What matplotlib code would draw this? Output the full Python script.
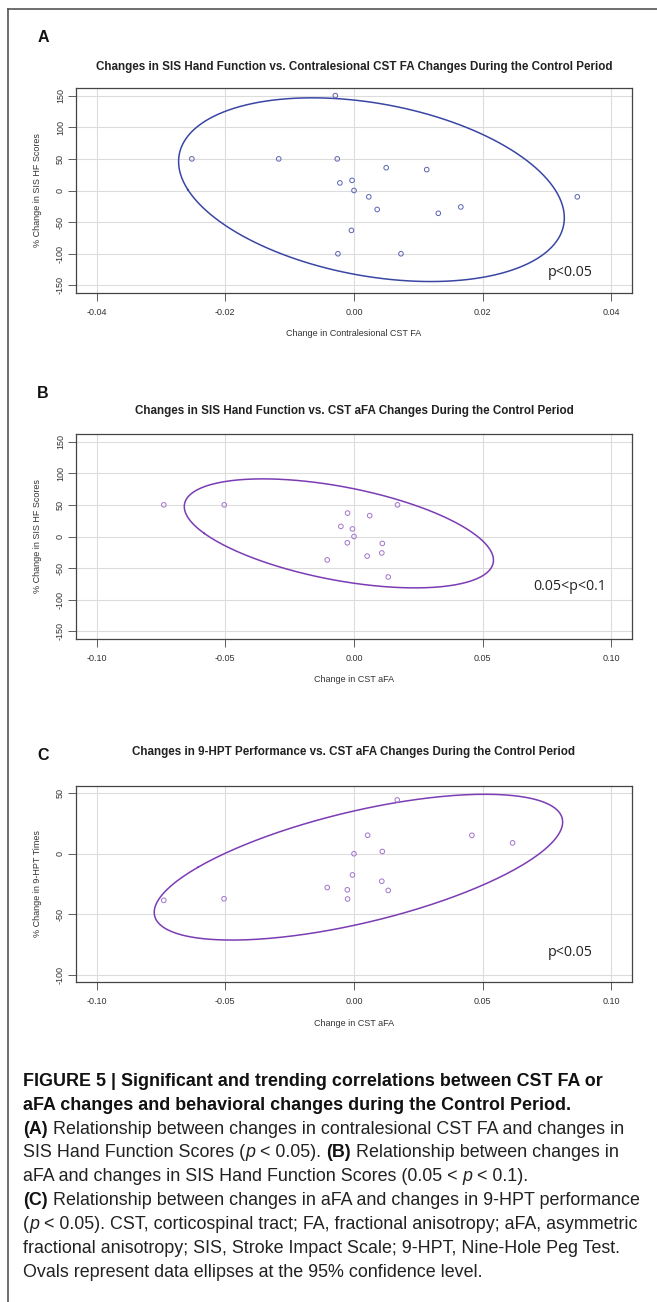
import numpy as np
import matplotlib
matplotlib.use("Agg")
import matplotlib.pyplot as plt
from matplotlib.lines import Line2D

W, H = 657, 1302

# panel A: contralesional CST FA vs SIS hand function
A_x = [-0.0029, -0.0252, -0.0117, -0.0026, 0.0050, 0.0113, -0.0022, -0.0003, 0.0000,
       0.0023, 0.0036, 0.0166, 0.0131, 0.0347, -0.0004, -0.0025, 0.0073]
A_y = [150, 50, 50, 50, 36, 33, 12, 16, 0, -10, -30, -26, -36, -10, -63, -100, -100]

# panel B: CST aFA vs SIS hand function
B_x = [-0.0739, -0.0504, -0.0025, 0.0061, 0.0169, -0.0051, -0.0006, 0.0000, -0.0026,
       0.0110, 0.0108, 0.0051, -0.0104, 0.0133]
B_y = [50, 50, 37, 33, 50, 16, 12, 0, -10, -11, -26, -31, -37, -64]

# panel C: CST aFA vs 9-HPT times
C_x = [-0.0739, -0.0505, -0.0104, -0.0026, -0.0025, 0.0133, 0.0108, -0.0006, 0.0000,
       0.0110, 0.0053, 0.0168, 0.0458, 0.0616]
C_y = [-38.5, -37.2, -27.9, -29.8, -37.4, -30.3, -22.7, -17.5, 0, 1.9, 15.3, 44.5, 15.3, 9]

titles = ["Changes in SIS Hand Function vs. Contralesional CST FA Changes During the Control Period",
          "Changes in SIS Hand Function vs. CST aFA Changes During the Control Period",
          "Changes in 9-HPT Performance vs. CST aFA Changes During the Control Period"]
xlabels = ["Change in Contralesional CST FA", "Change in CST aFA", "Change in CST aFA"]
ylabels = ["% Change in SIS HF Scores", "% Change in SIS HF Scores", "% Change in 9-HPT Times"]
pvals = ["p<0.05", "0.05<p<0.1", "p<0.05"]
letters = ["A", "B", "C"]
xticks_A = [-0.04, -0.02, 0.00, 0.02, 0.04]
xticks_BC = [-0.10, -0.05, 0.00, 0.05, 0.10]
yticks_AB = [-150, -100, -50, 0, 50, 100, 150]
yticks_C = [-100, -50, 0, 50]

NARROW = ["Liberation Sans Narrow", "Liberation Sans", "DejaVu Sans"]
SANS = ["Liberation Sans", "DejaVu Sans"]


def data_ellipse(x, y, level=0.95):
    # normal-theory data ellipse from sample mean and covariance
    xy = np.column_stack([x, y])
    loc = xy.mean(0)
    cv = np.cov(xy.T, ddof=0)
    r = np.sqrt(-2 * np.log(1 - level))
    vals, vecs = np.linalg.eigh(cv)
    t = np.linspace(0, 2 * np.pi, 300)
    circ = np.vstack([np.cos(t), np.sin(t)])
    pts = (vecs @ (np.sqrt(vals)[:, None] * circ)) * r + loc[:, None]
    return pts[0], pts[1]


def rect(x0, y0, x1, y1):
    return [x0 / W, 1 - y1 / H, (x1 - x0) / W, (y1 - y0) / H]


fig = plt.figure(figsize=(W / 100, H / 100), dpi=100)

L, R = 76, 632
CX = (L + R) / 2
panels = [
    (A_x, A_y, rect(L, 88, R, 293), (-0.0432, 0.0432), (-162, 162), xticks_A, yticks_AB,
     "#3A46A4", "#5B63B3", 67, 38, 312, 334, 273, 8.4),
    (B_x, B_y, rect(L, 434, R, 639), (-0.108, 0.108), (-162, 162), xticks_BC, yticks_AB,
     "#7B3CB4", "#A274CC", 411, 394, 658, 680, 587, 8.4),
    (C_x, C_y, rect(L, 786, R, 982), (-0.108, 0.108), (-106, 56), xticks_BC, yticks_C,
     "#7B3CB4", "#A274CC", 752, 756, 1001, 1024, 953, 8.4),
]

for i, (xs, ys, r, xl, yl, xt, yt, ecol, pcol, ty, ly, xty, xly, py, tsz) in enumerate(panels):
    ax = fig.add_axes(r)
    ax.set_xlim(*xl)
    ax.set_ylim(*yl)
    ax.set_xticks(xt)
    ax.set_yticks(yt)
    ax.set_xticklabels(["%.2f" % v for v in xt], fontsize=6.5, family=SANS, color="#333333")
    ax.set_yticklabels([str(v) for v in yt], fontsize=6.5, family=SANS, color="#333333",
                       rotation=90, va="center")
    ax.grid(True, color="#DCDCDC", lw=0.8)
    ax.set_axisbelow(True)
    ax.tick_params(direction="out", length=5.5, width=0.6, color="#444444", pad=5)
    ax.tick_params(axis="y", pad=2.5)
    for s in ax.spines.values():
        s.set_color("#444444")
        s.set_linewidth(0.9)

    ex, ey = data_ellipse(xs, ys)
    ax.plot(ex, ey, color=ecol, lw=1.1)
    ax.scatter(xs, ys, s=11, facecolors="none", edgecolors=pcol, linewidths=0.7, zorder=3)

    # titles, labels, annotations in pixel positions
    fig.text(CX / W, 1 - ty / H, titles[i], ha="center", va="center", fontsize=tsz,
             fontweight="bold", family=NARROW, color="#222222")
    fig.text(43 / W, 1 - ly / H, letters[i], ha="center", va="center", fontsize=11.5,
             fontweight="bold", family=SANS, color="#111111")
    fig.text(CX / W, 1 - xly / H, xlabels[i], ha="center", va="center", fontsize=6.5,
             family=SANS, color="#333333")
    cy = (r[1] + r[3] / 2)
    fig.text(38 / W, cy, ylabels[i], ha="center", va="center", rotation=90, fontsize=6.5,
             family=SANS, color="#333333")
    fig.text(606 / W if i == 1 else 593 / W, 1 - py / H, pvals[i], ha="right", va="center",
             fontsize=10.3, family=["Open Sans", "DejaVu Sans"], color="#222222")

# frame lines of the figure panel
fig.add_artist(Line2D([8 / W, 8 / W], [0, 1 - 9 / H], color="#555555", lw=1.2))
fig.add_artist(Line2D([8 / W, 1], [1 - 9 / H, 1 - 9 / H], color="#555555", lw=1.2))

# caption with mixed bold / italic runs
B_, N_, I_ = ("bold", "normal"), ("normal", "normal"), ("normal", "italic")
caption = [
    [("FIGURE 5 | Significant and trending correlations between CST FA or", B_)],
    [("aFA changes and behavioral changes during the Control Period.", B_)],
    [("(A)", B_), (" Relationship between changes in contralesional CST FA and changes in", N_)],
    [("SIS Hand Function Scores (", N_), ("p", I_), (" < 0.05). ", N_), ("(B)", B_),
     (" Relationship between changes in", N_)],
    [("aFA and changes in SIS Hand Function Scores (0.05 < ", N_), ("p", I_), (" < 0.1).", N_)],
    [("(C)", B_), (" Relationship between changes in aFA and changes in 9-HPT performance", N_)],
    [("(", N_), ("p", I_), (" < 0.05). CST, corticospinal tract; FA, fractional anisotropy; aFA, asymmetric", N_)],
    [("fractional anisotropy; SIS, Stroke Impact Scale; 9-HPT, Nine-Hole Peg Test.", N_)],
    [("Ovals represent data ellipses at the 95% confidence level.", N_)],
]
cap_y = [1086, 1110, 1134, 1157, 1181, 1205, 1229, 1253, 1277]
CAP = NARROW
cap_size = 12.9

renderer = fig.canvas.get_renderer()


def text_w(s, weight, style):
    t1 = fig.text(0, 0, "a" + s + "a", fontsize=cap_size, fontweight=weight, fontstyle=style, family=CAP)
    t2 = fig.text(0, 0, "aa", fontsize=cap_size, fontweight=weight, fontstyle=style, family=CAP)
    w = t1.get_window_extent(renderer).width - t2.get_window_extent(renderer).width
    t1.remove()
    t2.remove()
    return w


for runs, yy in zip(caption, cap_y):
    x = 23.0
    for s, (wt, st) in runs:
        fig.text(x / W, 1 - yy / H, s, fontsize=cap_size, fontweight=wt, fontstyle=st,
                 family=CAP, color="#222222" if wt == "normal" else "#111111", va="baseline")
        x += text_w(s, wt, st)

fig.savefig("out.png", dpi=100)
